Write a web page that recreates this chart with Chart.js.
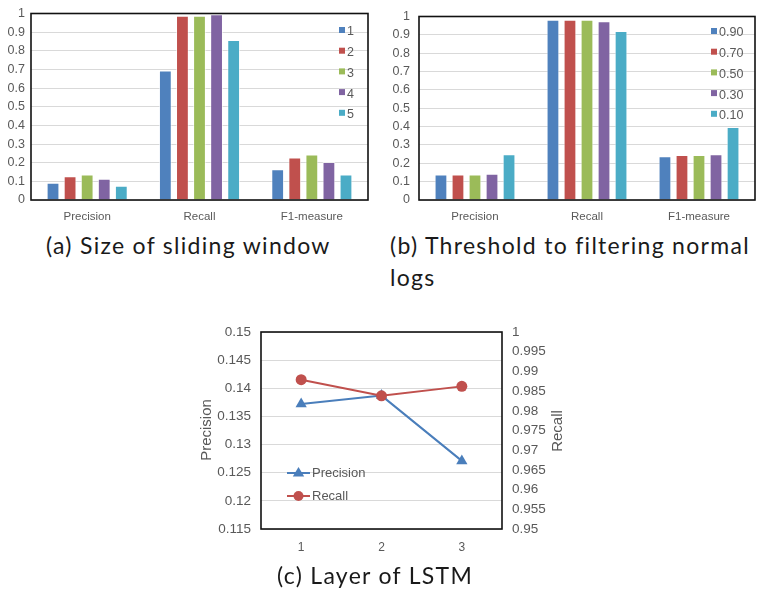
<!DOCTYPE html>
<html>
<head>
<meta charset="utf-8">
<script src="https://cdn.jsdelivr.net/npm/chart.js@4.4.0/dist/chart.umd.min.js"></script>
<style>
body{margin:0;background:#fff;width:760px;height:591px;position:relative;overflow:hidden}
canvas{position:absolute}
.cap{position:absolute;font-family:Lato,sans-serif;font-weight:400;font-size:23px;letter-spacing:1.3px;color:#1a1a1a;line-height:32px;white-space:nowrap}
</style>
</head>
<body>
<canvas id="cA" width="380" height="225" style="left:0;top:0"></canvas>
<canvas id="cB" width="380" height="225" style="left:380px;top:0"></canvas>
<canvas id="cC" width="400" height="250" style="left:190px;top:310px"></canvas>
<div class="cap" style="left:46px;top:229px">(a) Size of sliding window</div>
<div class="cap" style="left:390px;top:229px">(b) Threshold to filtering normal<br>logs</div>
<div class="cap" style="left:277px;top:559px">(c) Layer of LSTM</div>
<script>
// ---- data ----
const groups = ['Precision', 'Recall', 'F1-measure'];

// (a) size of sliding window, one row per window size: [precision, recall, f1]
const winLabels = ['1', '2', '3', '4', '5'];
const winValues = [
  [0.093, 0.694, 0.165],
  [0.127, 0.988, 0.228],
  [0.137, 0.988, 0.244],
  [0.114, 0.996, 0.204],
  [0.076, 0.858, 0.137]
];

// (b) threshold
const thrLabels = ['0.90', '0.70', '0.50', '0.30', '0.10'];
const thrValues = [
  [0.139, 0.982, 0.239],
  [0.139, 0.982, 0.245],
  [0.139, 0.982, 0.245],
  [0.143, 0.974, 0.250],
  [0.250, 0.921, 0.398]
];

// (c) LSTM layers
const layers = ['1', '2', '3'];
const layerPrecision = [0.1372, 0.1387, 0.1271];
const layerRecall = [0.9879, 0.9838, 0.9862];

const palette = ['#4F81BD', '#C0504D', '#9BBB59', '#8064A2', '#4BACC6'];
const GREY = '#595959';

Chart.defaults.font.family = '"Liberation Sans", Arial, sans-serif';
Chart.defaults.color = GREY;

const fmt = v => String(+Number(v).toFixed(4));

// ---- plugins ----
const frame = {
  id: 'frame',
  afterDraw(c) {
    const a = c.chartArea, x = c.ctx;
    x.save();
    x.strokeStyle = '#111';
    x.lineWidth = 1.6;
    x.strokeRect(a.left, a.top, a.right - a.left, a.bottom - a.top);
    x.restore();
  }
};

function marker(ctx, style, cx, cy, r) {
  ctx.beginPath();
  if (style === 'triangle') {
    ctx.moveTo(cx, cy - r);
    ctx.lineTo(cx + r * 0.95, cy + r * 0.6);
    ctx.lineTo(cx - r * 0.95, cy + r * 0.6);
    ctx.closePath();
  } else {
    ctx.arc(cx, cy, r, 0, Math.PI * 2);
  }
  ctx.fill();
}

const inLegend = {
  id: 'inLegend',
  afterDraw(c, args, o) {
    const ctx = c.ctx;
    ctx.save();
    ctx.font = o.font;
    ctx.textBaseline = 'middle';
    c.data.datasets.forEach((d, i) => {
      const y = o.y + i * o.dy;
      if (o.line) {
        ctx.strokeStyle = d.borderColor;
        ctx.fillStyle = d.borderColor;
        ctx.lineWidth = 2;
        ctx.beginPath(); ctx.moveTo(o.x, y); ctx.lineTo(o.x + o.w, y); ctx.stroke();
        marker(ctx, d.pointStyle, o.x + o.w / 2, y, d.pointStyle === 'triangle' ? 6 : 5);
      } else {
        ctx.fillStyle = d.backgroundColor;
        ctx.fillRect(o.x, y - o.box / 2 - 2, o.box, o.box);
      }
      ctx.fillStyle = GREY;
      ctx.fillText(d.label, o.x + o.tx, y);
    });
    ctx.restore();
  }
};

const sideTitles = {
  id: 'sideTitles',
  afterDraw(c, args, o) {
    const ctx = c.ctx;
    ctx.save();
    ctx.font = o.font;
    ctx.fillStyle = GREY;
    ctx.textAlign = 'center';
    ctx.textBaseline = 'middle';
    o.items.forEach(t => {
      ctx.save();
      ctx.translate(t.x, t.y);
      ctx.rotate(-Math.PI / 2);
      ctx.fillText(t.text, 0, 0);
      ctx.restore();
    });
    ctx.restore();
  }
};

// ---- bar charts ----
function barChart(id, labels, values, o) {
  return new Chart(document.getElementById(id), {
    type: 'bar',
    data: {
      labels: groups,
      datasets: labels.map((l, i) => ({
        label: l,
        data: values[i],
        backgroundColor: palette[i],
        borderColor: 'rgba(255,255,255,0.6)',
        borderWidth: 1,
        categoryPercentage: 0.76,
        barPercentage: 0.75
      }))
    },
    options: {
      responsive: false,
      animation: false,
      devicePixelRatio: 1,
      layout: { padding: { top: o.top, right: o.right, left: 0, bottom: 0 } },
      plugins: {
        legend: { display: false },
        tooltip: { enabled: false },
        inLegend: o.legend
      },
      scales: {
        x: {
          grid: { display: false },
          border: { display: false },
          ticks: { color: GREY, font: { size: 11.5 }, padding: 2 },
          afterFit(s) { s.height = 25; }
        },
        y: {
          min: 0, max: 1,
          ticks: { stepSize: 0.1, color: GREY, font: { size: 12.5 }, padding: o.pad, callback: fmt },
          grid: { color: '#d9d9d9', drawTicks: false },
          border: { display: false },
          afterFit(s) { s.width = o.left; }
        }
      }
    },
    plugins: [frame, inLegend]
  });
}

barChart('cA', winLabels, winValues, {
  top: 10, right: 12, left: 31, pad: 6,
  legend: { x: 339, y: 32, dy: 20.7, box: 6, tx: 8, font: '12.5px "Liberation Sans", Arial, sans-serif' }
});

barChart('cB', thrLabels, thrValues, {
  top: 11, right: 5, left: 39, pad: 9,
  legend: { x: 331, y: 33, dy: 20.7, box: 6, tx: 8, font: '12.5px "Liberation Sans", Arial, sans-serif' }
});

// ---- line chart ----
const BLUE = '#4A7EBB', RED = '#C0504D';
new Chart(document.getElementById('cC'), {
  type: 'line',
  data: {
    labels: layers,
    datasets: [
      { label: 'Precision', data: layerPrecision, yAxisID: 'yP', order: 1,
        borderColor: BLUE, backgroundColor: BLUE, pointStyle: 'triangle',
        pointRadius: 6.5, pointBorderWidth: 0, borderWidth: 2 },
      { label: 'Recall', data: layerRecall, yAxisID: 'yR', order: 0,
        borderColor: RED, backgroundColor: RED, pointStyle: 'circle',
        pointRadius: 5.5, pointBorderWidth: 0, borderWidth: 2 }
    ]
  },
  options: {
    responsive: false,
    animation: false,
    devicePixelRatio: 1,
    layout: { padding: { top: 22, left: 0, right: 0, bottom: 0 } },
    plugins: {
      legend: { display: false },
      tooltip: { enabled: false },
      inLegend: { line: true, x: 97, y: 163, dy: 23, w: 23, tx: 25, font: '13px "Liberation Sans", Arial, sans-serif' },
      sideTitles: { font: '15px "Liberation Sans", Arial, sans-serif',
        items: [{ text: 'Precision', x: 17, y: 120 }, { text: 'Recall', x: 368, y: 121 }] }
    },
    scales: {
      x: {
        offset: true,
        grid: { display: false },
        border: { display: false },
        ticks: { color: GREY, font: { size: 12 }, padding: 3 },
        afterFit(s) { s.height = 31; }
      },
      yP: {
        position: 'left',
        min: 0.115, max: 0.15,
        ticks: { stepSize: 0.005, color: GREY, font: { size: 13.5 }, padding: 10, callback: fmt },
        grid: { color: '#d9d9d9', drawTicks: false },
        border: { display: false },
        afterFit(s) { s.width = 71; }
      },
      yR: {
        position: 'right',
        min: 0.95, max: 1,
        ticks: { stepSize: 0.005, color: GREY, font: { size: 13.5 }, padding: 10, callback: fmt },
        grid: { display: false, drawTicks: false },
        border: { display: false },
        afterFit(s) { s.width = 88; }
      }
    }
  },
  plugins: [frame, inLegend, sideTitles]
});
</script>
</body>
</html>
